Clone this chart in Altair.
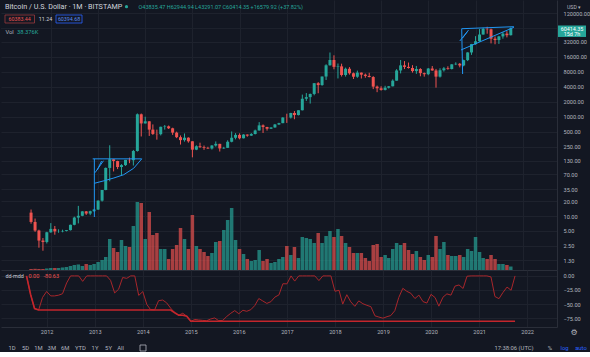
import altair as alt
import pandas as pd

# ---------------- data ----------------
dates = pd.date_range("2011-08-01", periods=123, freq="MS")

open_ = [11.7, 7.6, 5.1, 3.2, 3.0,
         4.7, 5.5, 4.9, 4.9, 5.0, 5.2, 6.65, 9.3, 10.1, 12.4, 11.2, 12.5,
         13.5, 20.4, 33.4, 93, 139, 128, 97, 106, 135, 133, 204, 1120,
         732, 808, 550, 450, 445, 627, 640, 585, 478, 387, 338, 378,
         320, 217, 254, 244, 236, 229, 263, 284, 230, 236, 313, 377,
         430, 368, 437, 416, 448, 529, 670, 622, 573, 608, 698, 742,
         964, 962, 1190, 1080, 1350, 2300, 2480, 2875, 4735, 4340, 6450, 10860,
         13880, 10100, 10330, 6930, 9245, 7500, 6390, 7730, 7030, 6630, 6300, 4040,
         3740, 3460, 3840, 4100, 5320, 8550, 10820, 10090, 9590, 8300, 9150, 7550,
         7190, 9340, 8540, 6420, 8630, 9450, 9140, 11350, 11650, 10780, 13800, 19700,
         28990, 33110, 45240, 58800, 57720, 37300, 35040, 41460, 47130, 43835.47]
high = [13.5, 8.9, 5.3, 3.6, 4.8,
        7.2, 6.3, 5.4, 5.3, 5.2, 6.7, 9.7, 16.0, 12.5, 12.6, 12.8, 13.9,
        20.7, 33.4, 95, 266, 140, 130, 111, 135, 150, 214, 1163, 1160,
        1000, 810, 700, 550, 630, 680, 665, 600, 500, 420, 460, 385,
        320, 265, 300, 263, 248, 268, 318, 285, 247, 335, 505, 467,
        462, 445, 441, 467, 550, 778, 700, 625, 612, 715, 755, 975,
        1150, 1200, 1300, 1350, 2790, 3000, 2925, 4750, 4980, 6450, 11400, 19666,
        17250, 11800, 11700, 9760, 9990, 7770, 8490, 7760, 7400, 7680, 6560, 4240,
        4100, 4200, 4150, 5640, 9080, 13880, 13200, 12330, 10930, 10540, 9500, 7750,
        9580, 10500, 9180, 9460, 10070, 10380, 11440, 12480, 12090, 14100, 19900, 29300,
        41950, 58350, 61780, 64900, 59500, 41330, 42550, 50500, 52900, 62944.94]
low = [7.0, 4.8, 2.3, 2.0, 2.8,
       4.6, 4.2, 4.6, 4.7, 4.9, 5.1, 6.5, 7.1, 9.9, 10.5, 10.4, 12.2,
       13.2, 19.5, 33, 50, 79, 88, 65, 102, 116, 104, 198, 400,
       730, 410, 430, 345, 420, 550, 565, 430, 370, 275, 315, 300,
       152, 212, 235, 215, 225, 218, 250, 199, 225, 235, 305, 350,
       350, 365, 395, 410, 440, 525, 470, 525, 568, 600, 680, 740,
       750, 917, 890, 1060, 1340, 2080, 1840, 2700, 2970, 4200, 5500, 10700,
       9020, 5900, 6450, 6430, 7040, 5750, 6070, 5880, 6100, 6200, 3600, 3120,
       3350, 3380, 3700, 4090, 5320, 7450, 9100, 9330, 7730, 7300, 6520, 6420,
       6860, 8450, 3850, 6150, 8120, 8830, 8960, 10960, 9880, 10370, 13200, 17600,
       28130, 32300, 45000, 47000, 30000, 28800, 29300, 37300, 39600, 43291.07]
close = [7.6, 5.1, 3.2, 3.0, 4.7,
         5.5, 4.9, 4.9, 5.0, 5.2, 6.65, 9.3, 10.1, 12.4, 11.2, 12.5, 13.5,
         20.4, 33.4, 93, 139, 128, 97, 106, 135, 133, 204, 1120, 732,
         808, 550, 450, 445, 627, 640, 585, 478, 387, 338, 378, 320,
         217, 254, 244, 236, 229, 263, 284, 230, 236, 313, 377, 430,
         368, 437, 416, 448, 529, 670, 622, 573, 608, 698, 742, 964,
         962, 1190, 1080, 1350, 2300, 2480, 2875, 4735, 4340, 6450, 10860, 13880,
         10100, 10330, 6930, 9245, 7500, 6390, 7730, 7030, 6630, 6300, 4040, 3740,
         3460, 3840, 4100, 5320, 8550, 10820, 10090, 9590, 8300, 9150, 7550, 7190,
         9340, 8540, 6420, 8630, 9450, 9140, 11350, 11650, 10780, 13800, 19700, 28990,
         33110, 45240, 58800, 57720, 37300, 35040, 41460, 47130, 43835.47, 60414.35]
volume_k = [11, 13, 11, 11, 17,
            22, 22, 22, 28, 33, 44, 55, 61, 44, 66, 55, 66,
            88, 110, 143, 341, 242, 198, 330, 264, 253, 484, 748, 737,
            341, 638, 385, 407, 231, 231, 121, 231, 275, 462, 341, 231,
            605, 264, 231, 198, 154, 187, 308, 319, 440, 550, 682, 330,
            231, 176, 121, 99, 110, 220, 99, 121, 77, 88, 121, 143,
            264, 165, 253, 132, 363, 352, 341, 297, 407, 297, 374, 429,
            363, 451, 374, 297, 253, 187, 187, 187, 132, 99, 275, 286,
            143, 165, 132, 231, 297, 275, 297, 220, 176, 209, 143, 110,
            165, 143, 374, 231, 308, 165, 154, 154, 165, 143, 231, 209,
            363, 198, 132, 121, 165, 121, 66, 66, 55, 38.376]

df = pd.DataFrame({"date": dates, "open": open_, "high": high, "low": low,
                   "close": close, "volume": volume_k})

# user drawings (date, price) on the chart
d_seg = ["a1", "a1", "a2", "a2", "a3", "a3", "a3", "a3", "a3", "a3",
         "a4", "a4", "a5", "a5",
         "b1", "b1", "b2", "b2", "b3", "b3", "b4", "b4", "b5", "b5"]
d_date = ["2012-11-20", "2013-12-05", "2012-12-03", "2012-12-03",
          "2012-12-03", "2013-02-18", "2013-05-03", "2013-07-18", "2013-10-03", "2013-12-05",
          "2012-12-08", "2013-02-12", "2012-12-25", "2013-01-28",
          "2020-09-16", "2021-10-25", "2020-09-16", "2020-09-23",
          "2020-09-10", "2021-10-25", "2020-09-01", "2020-11-08", "2020-09-23", "2020-10-31"]
d_price = [141.7, 141.7, 141.7, 9.55,
           45.6, 51.4, 58.3, 67.9, 91.4, 141.7,
           74.5, 130, 84.5, 128,
           59260, 65050, 59260, 7250,
           22070, 63250, 33500, 55700, 38500, 52050]
draw_df = pd.DataFrame({"seg": d_seg, "date": pd.to_datetime(d_date), "price": d_price,
                        "ord": list(range(len(d_seg)))})

price_ticks = [120000, 32000, 16000, 8000, 4000, 2000, 1000, 500, 250,
               130, 70, 35, 20, 10, 5, 2.5, 1.3]
hidden_grid = [60000]          # grid level whose label sits under the price badge
dd_ticks = [0, -25, -50, -75]
years = list(range(2012, 2023))

# ---------------- style ----------------
BG = "#131722"
TEAL = "#26a69a"
RED = "#ef5350"
GRID = "#1e222d"
LINE = "#2a2e39"
TXT = "#b2b5be"
FONT = "Roboto"
FS = 5.6

dummy = pd.DataFrame({"a": [0]})

x_scale = alt.Scale(domain=[alt.DateTime(year=2011, month=1, date=19),
                            alt.DateTime(year=2022, month=8, date=16)], nice=False)
year_vals = [alt.DateTime(year=y, month=1, date=1) for y in years]

top_x_axis = alt.Axis(values=year_vals, labels=False, ticks=False, domain=True,
                      domainColor=LINE, grid=True, gridColor=GRID, title=None)
bot_x_axis = alt.Axis(values=year_vals, format="%Y", labelFontSize=FS, labelColor=TXT,
                      labelFont=FONT, ticks=False, domain=True, domainColor=LINE,
                      grid=True, gridColor=GRID, title=None, labelPadding=2,
                      labelFlush=False, labelOverlap=False)

X_top = alt.X("date:T", scale=x_scale, axis=top_x_axis)
X_bot = alt.X("date:T", scale=x_scale, axis=bot_x_axis)

price_scale = alt.Scale(type="log", domain=[0.8176, 224400], nice=False)
price_axis = alt.Axis(orient="right", values=price_ticks, format=".2f", labelFontSize=FS,
                      labelColor=TXT, labelFont=FONT, ticks=False, domain=True,
                      domainColor=LINE, grid=True, gridColor=GRID, labelPadding=6,
                      title=None, labelOverlap=False, labelAlign="left")

updown = alt.when(alt.datum.close >= alt.datum.open).then(alt.value(TEAL)).otherwise(alt.value(RED))


def label(s, x, y, color=TXT, size=FS, align="left", font=FONT):
    return alt.Chart(dummy).mark_text(text=s, align=align, baseline="middle", color=color,
                                      fontSize=size, font=font).encode(
        x=alt.value(x), y=alt.value(y))


def box(x1, x2, y1, y2, stroke, fill=BG):
    return alt.Chart(dummy).mark_rect(fill=fill, stroke=stroke, strokeWidth=0.8).encode(
        x=alt.value(x1), x2=alt.value(x2), y=alt.value(y1), y2=alt.value(y2))


# ---------------- price pane ----------------
vol = alt.Chart(df).mark_bar(size=3.5, opacity=0.68).encode(
    x=X_top,
    y=alt.Y("volume:Q", scale=alt.Scale(domain=[0, 2970], nice=False), axis=None),
    color=updown,
)

grid60 = alt.Chart(pd.DataFrame({"lvl": hidden_grid})).mark_rule(color=GRID, strokeWidth=1).encode(
    y=alt.Y("lvl:Q", scale=price_scale, axis=price_axis),
    x=alt.value(0), x2=alt.value(556),
)
wicks = alt.Chart(df).mark_rule(strokeWidth=1).encode(
    x=X_top,
    y=alt.Y("low:Q", scale=price_scale, axis=price_axis),
    y2="high:Q",
    color=updown,
)
bodies = alt.Chart(df).mark_bar(size=3).encode(
    x=X_top,
    y=alt.Y("open:Q", scale=price_scale, axis=price_axis),
    y2="close:Q",
    color=updown,
)
drawings = alt.Chart(draw_df).mark_line(strokeWidth=1, color="#2196f3").encode(
    x=X_top,
    y=alt.Y("price:Q", scale=price_scale, axis=price_axis),
    detail="seg:N",
    order="ord:Q",
)
last = df.tail(1)
badge = alt.Chart(last).mark_point(
    shape="M-1,-0.2L1,-0.2L1,0.62L-1,0.62Z", size=784, filled=True, opacity=1,
    color=TEAL, strokeWidth=0).encode(
    x=alt.value(571),
    y=alt.Y("close:Q", scale=price_scale, axis=price_axis),
)
badge_t1 = alt.Chart(last).mark_text(text="60414.35", color="white", fontSize=5.4, font=FONT,
                                     align="center", baseline="middle", dy=1).encode(
    x=alt.value(571), y=alt.Y("close:Q", scale=price_scale, axis=price_axis))
badge_t2 = alt.Chart(last).mark_text(text="15d 7h", color="white", fontSize=5.4, font=FONT,
                                     align="center", baseline="middle", dy=5.6).encode(
    x=alt.value(571), y=alt.Y("close:Q", scale=price_scale, axis=price_axis))

hdr = [
    label("Bitcoin / U.S. Dollar · 1M · BITSTAMP", 4, 7, color="#d1d4dc", size=7.2),
    alt.Chart(dummy).mark_point(filled=True, size=10, color=TEAL, opacity=1).encode(
        x=alt.value(125.5), y=alt.value(6.7)),
    label("O43835.47 H62944.94 L43291.07 C60414.35 +16579.92 (+37.82%)", 137.5, 7,
          color=TEAL, size=5.5),
    box(4, 33.5, 15, 23, "#9b3a3d"),
    label("60383.44", 18.7, 19, color=RED, align="center", size=5.3),
    label("11.24", 44.5, 19, color="#d1d4dc", align="center", size=5.3),
    box(55, 81, 15, 23, "#2962ff"),
    label("60394.68", 68, 19, color="#5b8def", align="center", size=5.3),
    label("Vol", 4.5, 32, color=TXT, size=5.8),
    label("38.376K", 16, 32, color=TEAL, size=5.8),
    label("USD ▾", 573, 7, color=TXT, align="center", size=5.2),
]

price_group = alt.layer(grid60, wicks, bodies, drawings, badge, badge_t1, badge_t2, *hdr)
top = alt.layer(vol, price_group).resolve_scale(y="independent").properties(width=556, height=270)

# ---------------- dd-mdd pane ----------------
dd_scale = alt.Scale(domain=[-90.7, 10.47], nice=False, zero=False)
dd_axis = alt.Axis(orient="right", values=dd_ticks, format=".2f", labelFontSize=FS,
                   labelColor=TXT, labelFont=FONT, ticks=False, domain=True, domainColor=LINE,
                   grid=True, gridColor=GRID, labelPadding=6, title=None, labelAlign="left")

dd_base = alt.Chart(df).transform_window(
    cmax="max(close)", frame=[None, 0], sort=[alt.SortField("date")]
).transform_calculate(
    dd="(datum.close / datum.cmax - 1) * 100"
).transform_window(
    mdd="min(dd)", frame=[None, 0], sort=[alt.SortField("date")]
)

mdd_line = dd_base.mark_line(strokeWidth=1.6, color="#c4262c").encode(
    x=X_bot, y=alt.Y("mdd:Q", scale=dd_scale, axis=dd_axis))
dd_line = dd_base.mark_line(strokeWidth=1, color="#a8262b").encode(
    x=X_bot, y=alt.Y("dd:Q", scale=dd_scale, axis=dd_axis))

tb_y = 78
TB = 5.9
bottom_txt = [
    label("dd-mdd", 4.5, 6, color="#d1d4dc", size=5.4),
    label("0.00", 27.5, 6, color=RED, size=5.6),
    label("-80.63", 42.5, 6, color=RED, size=5.6),
    label("⚙", 573, 62.5, color=TXT, size=8, align="center", font="DejaVu Sans"),
    label("1D", 11, tb_y, align="center", size=TB),
    label("5D", 24.5, tb_y, align="center", size=TB),
    label("1M", 37.5, tb_y, align="center", size=TB),
    label("3M", 50.8, tb_y, align="center", size=TB),
    label("6M", 64.2, tb_y, align="center", size=TB),
    label("YTD", 79.5, tb_y, align="center", size=TB),
    label("1Y", 94, tb_y, align="center", size=TB),
    label("5Y", 107.5, tb_y, align="center", size=TB),
    label("All", 119.5, tb_y, align="center", size=TB),
    box(139, 145, 75, 81, TXT),
    label("17:38:06 (UTC)", 513, tb_y, align="center", size=TB),
    label("%", 549, tb_y, align="center", size=TB),
    label("log", 563.5, tb_y, color="#2962ff", align="center", size=TB),
    label("auto", 580, tb_y, color="#2962ff", align="center", size=TB),
]

bottom = alt.layer(dd_line, mdd_line, *bottom_txt).properties(width=556, height=57)

chart = alt.vconcat(top, bottom, spacing=0).resolve_scale(x="independent").properties(
    background=BG, padding=0
).configure_view(stroke=None).configure_axis(labelFont=FONT)

chart.save("out.html", embed_options={"renderer": "svg", "actions": False})
